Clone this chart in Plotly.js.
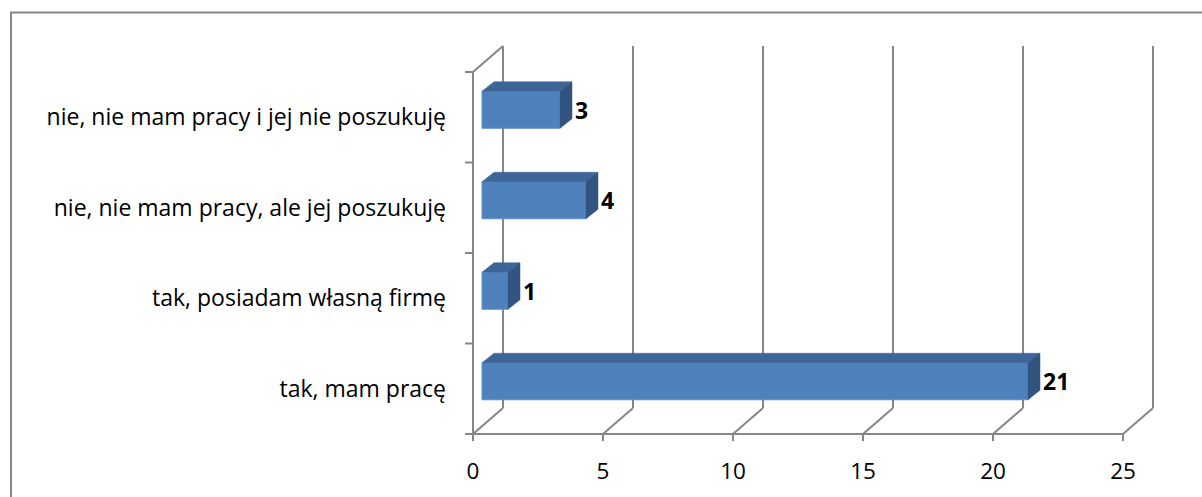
<!DOCTYPE html>
<html><head><meta charset="utf-8">
<script src="https://cdn.plot.ly/plotly-3.0.1.min.js"></script>
<style>html,body{margin:0;padding:0;background:#fff}#chart{width:1202px;height:497px}</style>
</head><body><div id="chart"></div>
<script>
// ---- data ----
const categories = [
  "tak, mam pracę",
  "tak, posiadam własną firmę",
  "nie, nie mam pracy, ale jej poszukuję",
  "nie, nie mam pracy i jej nie poszukuję"
];
const values = [21, 1, 4, 3];
const xTickVals = [0, 5, 10, 15, 20, 25];
const xTickText = ["0", "5", "10", "15", "20", "25"];

// ---- geometry (pixels) ----
const W = 1202, H = 497;
const plotL = 455, plotR = 1165, plotT = 40, plotB = 445;
const x0px = 473, pxPerX = 26;
const yBottomPx = 434, pxPerY = 90.5;
const xRange = [(plotL - x0px) / pxPerX, (plotR - x0px) / pxPerX];
const yRange = [-0.5 - (plotB - yBottomPx) / pxPerY, -0.5 + (yBottomPx - plotT) / pxPerY];
const dx = p => p / pxPerX, dy = p => p / pxPerY;

const BX = dx(30), BY = dy(26);      // wall depth
const FX = dx(9), FY = dy(7.5);      // bar front shift
const DX = dx(12), DY = dy(9.5);     // bar depth
const BH = dy(37);                   // bar height

const gridColor = '#868686';
const fontFam = '"Open Sans", "Liberation Sans", sans-serif';

const idx = categories.map((c, i) => i);
const yTop = idx.length - 0.5, yBot = -0.5;

// faces
const topX = [], topY = [], sideX = [], sideY = [], labX = [], labY = [];
values.forEach((v, i) => {
  const yc = i + FY, yt = yc + BH / 2, yb = yc - BH / 2;
  const xs = FX, xe = FX + v;
  topX.push(xs, xe, xe + DX, xs + DX, xs, null);
  topY.push(yt, yt, yt + DY, yt + DY, yt, null);
  sideX.push(xe, xe, xe + DX, xe + DX, xe, null);
  sideY.push(yb, yt, yt + DY, yb + DY, yb, null);
  labX.push(xe + DX + dx(3));
  labY.push(yc - dy(3));
});

const traces = [
  {
    type: 'bar', orientation: 'h', y: idx, x: values, base: FX,
    width: BH, offset: FY - BH / 2,
    marker: { color: '#4F81BD', line: { color: '#5E8FCB', width: 1 } },
    hoverinfo: 'x+y', showlegend: false
  },
  {
    type: 'scatter', mode: 'lines', x: topX, y: topY, fill: 'toself',
    fillcolor: '#3D6597', line: { color: '#3D6597', width: 0.5 }, hoverinfo: 'skip', showlegend: false
  },
  {
    type: 'scatter', mode: 'lines', x: sideX, y: sideY, fill: 'toself',
    fillcolor: '#325480', line: { color: '#325480', width: 0.5 }, hoverinfo: 'skip', showlegend: false
  },
  {
    type: 'scatter', mode: 'text', x: labX, y: labY, text: values.map(String),
    textposition: 'middle right', cliponaxis: false,
    textfont: { family: fontFam, size: 23, color: '#000', weight: 'bold' },
    hoverinfo: 'skip', showlegend: false
  }
];

// structure lines
const shapes = [];
const ln = (x0, y0, x1, y1) => shapes.push({
  type: 'line', xref: 'x', yref: 'y', x0, y0, x1, y1, layer: 'below',
  line: { color: gridColor, width: 2 }
});
xTickVals.forEach(t => {
  ln(t + BX, yBot + BY, t + BX, yTop + BY);   // back wall gridline
  ln(t, yBot, t + BX, yBot + BY);             // floor diagonal
  ln(t, yBot, t, yBot - dy(7));               // tick mark
});
ln(0, yBot, 0, yTop);                       // front y axis
ln(0, yTop, BX, yTop + BY);                 // left wall top diagonal
for (let b = yBot; b <= yTop + 1e-9; b += 1) ln(-dx(8), b, 0, b);  // y tick marks
ln(-dx(8), yBot, xTickVals[xTickVals.length - 1], yBot);           // bottom axis line

// outer border
const pw = plotR - plotL, ph = plotB - plotT;
shapes.push({
  type: 'rect', xref: 'paper', yref: 'paper',
  x0: (11 - plotL) / pw, x1: (1300 - plotL) / pw,
  y0: (plotB - 600) / ph, y1: (plotB - 12.5) / ph,
  line: { color: gridColor, width: 2 }, fillcolor: 'rgba(0,0,0,0)', layer: 'below'
});

const layout = {
  width: W, height: H,
  margin: { l: plotL, r: W - plotR, t: plotT, b: H - plotB, pad: 0 },
  paper_bgcolor: '#fff', plot_bgcolor: 'rgba(0,0,0,0)',
  showlegend: false,
  xaxis: {
    range: xRange, tickvals: xTickVals, ticktext: xTickText,
    showgrid: false, zeroline: false, showline: false, ticks: '',
    ticklabelstandoff: 10,
    tickfont: { family: fontFam, size: 22.5, color: '#000' }, fixedrange: true
  },
  yaxis: {
    range: yRange, tickvals: idx, ticktext: categories,
    showgrid: false, zeroline: false, showline: false, ticks: '',
    ticklabelstandoff: 8,
    tickfont: { family: fontFam, size: 23, color: '#000' }, fixedrange: true
  },
  shapes: shapes
};

Plotly.newPlot('chart', traces, layout, { displayModeBar: false, staticPlot: true });
</script>
</body></html>
